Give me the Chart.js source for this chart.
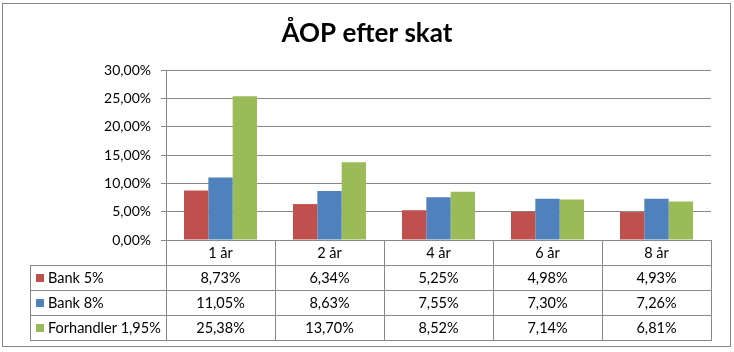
<!DOCTYPE html>
<html><head><meta charset="utf-8">
<script src="https://cdn.jsdelivr.net/npm/chart.js@4/dist/chart.umd.min.js"></script>
<style>html,body{margin:0;padding:0;background:#fff}canvas{display:block}</style>
</head><body>
<canvas id="c" width="734" height="352"></canvas>
<script>
const categories = ['1 år', '2 år', '4 år', '6 år', '8 år'];
const bank5 = [8.73, 6.34, 5.25, 4.98, 4.93];
const bank8 = [11.05, 8.63, 7.55, 7.30, 7.26];
const forhandler = [25.38, 13.70, 8.52, 7.14, 6.81];
const seriesNames = ['Bank 5%', 'Bank 8%', 'Forhandler 1,95%'];
const seriesColors = ['#C0504D', '#4F81BD', '#9BBB59'];
const yTicks = [0, 5, 10, 15, 20, 25, 30];
const titleText = 'ÅOP efter skat';

const fmt = v => v.toFixed(2).replace('.', ',') + '%';
const FONT = 'Lato, Carlito, Calibri, sans-serif';
const LINE = '#878787';
const seriesData = [bank5, bank8, forhandler];

const frame = {
  id: 'frame',
  beforeDraw(chart) {
    const ctx = chart.ctx;
    ctx.save();
    ctx.fillStyle = '#fff';
    ctx.fillRect(0, 0, chart.width, chart.height);
    ctx.strokeStyle = '#868686';
    ctx.lineWidth = 1;
    ctx.strokeRect(2.5, 3.5, 728, 343);
    ctx.restore();
  }
};

const dataTable = {
  id: 'dataTable',
  afterDraw(chart) {
    const ctx = chart.ctx;
    const area = chart.chartArea;
    const xs = chart.scales.x;
    const n = categories.length;
    const colW = (area.right - area.left) / n;
    const top = Math.round(area.bottom);
    const rowH = 25;
    const tableLeft = 30;
    const right = Math.round(area.right);
    ctx.save();
    ctx.strokeStyle = LINE;
    ctx.lineWidth = 1;
    ctx.beginPath();
    for (let i = 1; i <= 4; i++) {
      const y = top + rowH * i + 0.5;
      ctx.moveTo(tableLeft, y);
      ctx.lineTo(right + 1, y);
    }
    for (let j = 0; j <= n; j++) {
      const x = Math.round(area.left + colW * j) + 0.5;
      ctx.moveTo(x, top);
      ctx.lineTo(x, top + rowH * 4 + 1);
    }
    ctx.moveTo(tableLeft + 0.5, top + rowH);
    ctx.lineTo(tableLeft + 0.5, top + rowH * 4 + 1);
    ctx.stroke();

    ctx.fillStyle = '#000';
    ctx.font = '14.5px ' + FONT;
    ctx.textBaseline = 'middle';
    ctx.textAlign = 'center';
    categories.forEach((c, j) => {
      ctx.fillText(c, xs.getPixelForValue(j), top + rowH / 2 + 1);
    });
    seriesData.forEach((arr, r) => {
      const yc = top + rowH * (r + 1) + rowH / 2 + 1;
      arr.forEach((v, j) => {
        ctx.fillText(fmt(v), xs.getPixelForValue(j), yc);
      });
    });
    ctx.textAlign = 'left';
    seriesNames.forEach((name, r) => {
      const yc = top + rowH * (r + 1) + rowH / 2;
      ctx.fillStyle = seriesColors[r];
      ctx.fillRect(36, Math.round(yc) - 4, 8, 8);
      ctx.fillStyle = '#000';
      ctx.fillText(name, 48, yc + 1);
    });
    ctx.restore();
  }
};

new Chart(document.getElementById('c'), {
  type: 'bar',
  data: {
    labels: categories,
    datasets: seriesNames.map((name, i) => ({
      label: name,
      data: seriesData[i],
      backgroundColor: seriesColors[i],
      borderWidth: 0,
      categoryPercentage: 0.67,
      barPercentage: 1.0
    }))
  },
  options: {
    responsive: false,
    animation: false,
    devicePixelRatio: 1,
    layout: { padding: { left: 23, right: 23, top: 0, bottom: 0 } },
    plugins: {
      legend: { display: false },
      tooltip: { enabled: false },
      title: {
        display: true,
        text: titleText,
        color: '#000',
        font: { family: FONT, size: 26, weight: 'bold', lineHeight: 1.2 },
        padding: { top: 18, bottom: 20.8 }
      }
    },
    scales: {
      x: {
        grid: { display: false },
        border: { display: true, color: LINE },
        ticks: { display: false },
        afterFit(s) { s.height = 112; }
      },
      y: {
        min: 0,
        max: 30,
        afterBuildTicks(s) { s.ticks = yTicks.map(v => ({ value: v })); },
        ticks: {
          color: '#000',
          font: { family: FONT, size: 14 },
          padding: 10,
          callback: v => fmt(v)
        },
        grid: { color: LINE, lineWidth: 1, tickLength: 5 },
        border: { display: true, color: LINE },
        afterFit(s) { s.width = 143; }
      }
    }
  },
  plugins: [frame, dataTable]
});
</script>
</body></html>
